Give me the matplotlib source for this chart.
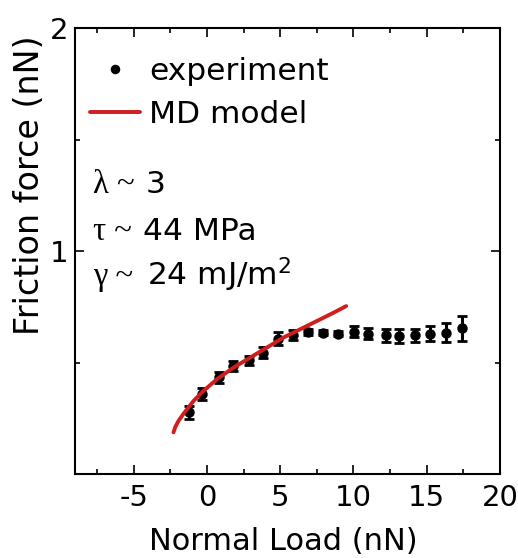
import numpy as np
import matplotlib
matplotlib.use("Agg")
import matplotlib.pyplot as plt


# experiment: normal load (nN), friction force (nN), error (nN)
load_exp = [-1.25, -0.34, 0.8, 1.77, 2.84, 3.86, 4.88, 5.9, 6.93, 7.9,
            8.97, 10.04, 11.0, 12.2, 13.1, 14.2, 15.2, 16.3, 17.4]
friction_exp = [0.276, 0.358, 0.433, 0.485, 0.510, 0.544, 0.607, 0.623, 0.637, 0.634,
                0.630, 0.638, 0.630, 0.622, 0.619, 0.622, 0.630, 0.634, 0.653]
friction_err = [0.030, 0.028, 0.025, 0.022, 0.020, 0.025, 0.028, 0.022, 0.015, 0.012,
                0.012, 0.024, 0.026, 0.028, 0.030, 0.030, 0.035, 0.042, 0.055]

# MD model curve
load_md = [-2.28, -2.15, -1.94, -1.60, -0.91, -0.23, 0.68, 1.81, 2.95, 4.09,
           5.22, 6.36, 7.50, 8.63, 9.50]
friction_md = [0.187, 0.212, 0.238, 0.270, 0.328, 0.373, 0.425, 0.477, 0.522, 0.567,
               0.612, 0.649, 0.686, 0.723, 0.753]

x_ticks = [-5, 0, 5, 10, 15, 20]
y_ticks = [1, 2]

params = [
    ("\u03bb ~", "3"),
    ("\u03c4 ~", "44 MPa"),
    ("\u03b3 ~", "24 mJ/m$^2$"),
]

RED = "#d01e1e"
SANS = "DejaVu Sans"
SERIF = "Liberation Serif"


def main():
    plt.rcParams["font.family"] = SANS
    plt.rcParams["mathtext.fontset"] = "dejavusans"
    plt.rcParams["axes.unicode_minus"] = False

    fig = plt.figure(figsize=(5.18, 5.58), dpi=100)
    ax = fig.add_axes([0.1448, 0.1505, 0.8205, 0.7993])

    ax.errorbar(load_exp, friction_exp, yerr=friction_err, fmt="none",
                ecolor="black", elinewidth=2.2, capsize=3.8, capthick=2.0, zorder=2)
    ax.plot(load_exp, friction_exp, "o", color="black", markersize=6.5,
            label="experiment", zorder=3)
    ax.plot(load_md, friction_md, "-", color=RED, linewidth=2.8,
            label="MD model", zorder=4, solid_capstyle="round")

    ax.set_xlim(-9, 20)
    ax.set_ylim(0, 2)
    ax.set_xticks(x_ticks)
    ax.set_xticks(np.arange(-7.5, 20, 5), minor=True)
    ax.set_yticks(y_ticks)
    ax.set_yticks([0.5, 1.5], minor=True)

    ax.tick_params(which="both", direction="in", top=True, right=True, width=1.2)
    ax.tick_params(which="major", length=6.5)
    ax.tick_params(which="minor", length=3.5)
    ax.tick_params(axis="x", labelsize=21, pad=7)
    ax.tick_params(axis="y", labelsize=21, pad=4.5)
    for spine in ax.spines.values():
        spine.set_linewidth(1.5)

    fig.text(283 / 518, 1 - 541 / 558, "Normal Load (nN)", fontsize=22,
             ha="center", va="center")
    fig.text(30 / 518, 1 - 185 / 558, "Friction force (nN)", fontsize=24,
             ha="center", va="center", rotation=90)

    ax.legend(loc="upper left", bbox_to_anchor=(0.035, 0.935), frameon=False,
              fontsize=22.5, borderpad=0, borderaxespad=0, handlelength=1.6,
              handletextpad=0.3, labelspacing=0.45, markerscale=0.9)

    y_base = [0.630, 0.525, 0.424]
    x_val = [0.165, 0.161, 0.169]
    for (sym, val), yb, xv in zip(params, y_base, x_val):
        ax.text(0.042, yb, sym, transform=ax.transAxes, fontsize=23.5,
                family=SERIF, va="baseline", ha="left")
        ax.text(xv, yb, val, transform=ax.transAxes, fontsize=22.5,
                va="baseline", ha="left")

    fig.savefig("out.png", dpi=100)
    plt.close(fig)


if __name__ == "__main__":
    main()
